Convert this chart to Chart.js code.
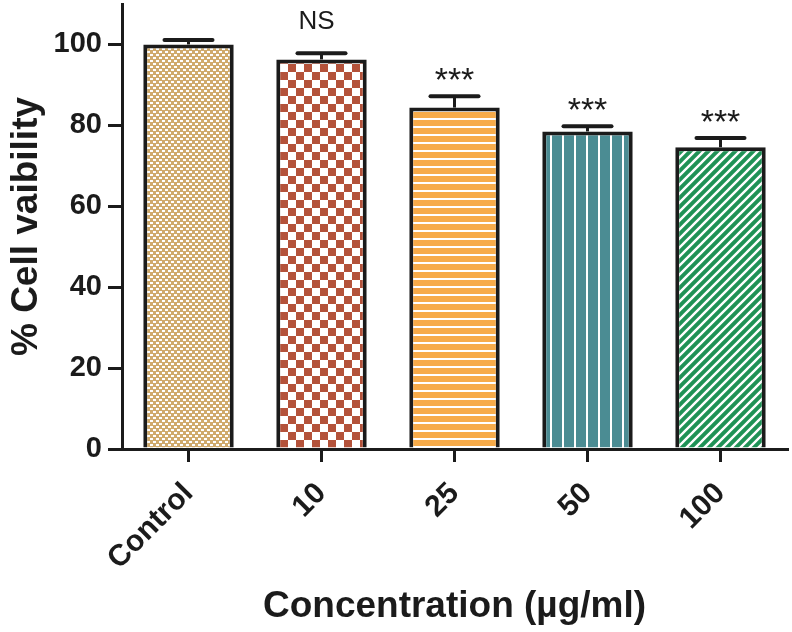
<!DOCTYPE html>
<html>
<head>
<meta charset="utf-8">
<script src="https://cdn.jsdelivr.net/npm/chart.js@4"></script>
<style>
  html, body { margin: 0; padding: 0; background: #fff; }
  #wrap { width: 792px; height: 632px; }
</style>
</head>
<body>
<div id="wrap"><canvas id="barChart" width="792" height="632"></canvas></div>
<script>
const categories = ['Control', '10', '25', '50', '100'];
const viability = [100, 96.3, 84.4, 78.5, 74.6];
const sem = [1.1, 1.5, 2.8, 1.3, 2.3];
const significance = ['', 'NS', '***', '***', '***'];
const yTicks = [0, 20, 40, 60, 80, 100];

const ink = '#1b1b1b';
const fontFam = '"Liberation Sans", Arial, sans-serif';

function tile(w, h, draw) {
    const c = document.createElement('canvas');
    c.width = w; c.height = h;
    const g = c.getContext('2d');
    draw(g, w, h);
    return document.getElementById('barChart').getContext('2d').createPattern(c, 'repeat');
}

// fill patterns per bar
const fills = [
    tile(6, 6, (g) => {
        g.fillStyle = '#fff'; g.fillRect(0, 0, 6, 6);
        g.fillStyle = '#d0aa6c'; g.fillRect(0, 0, 6, 6);
        g.fillStyle = '#fff'; g.fillRect(0, 0, 3, 2); g.fillRect(3, 3, 3, 2);
    }),
    tile(16, 16, (g) => {
        g.fillStyle = '#fff'; g.fillRect(0, 0, 16, 16);
        g.fillStyle = '#b4523a'; g.fillRect(0, 0, 8, 8); g.fillRect(8, 8, 8, 8);
    }),
    tile(8, 8, (g) => {
        g.fillStyle = '#f7ab49'; g.fillRect(0, 0, 8, 8);
        g.fillStyle = '#fff'; g.fillRect(0, 6, 8, 2);
    }),
    tile(12, 12, (g) => {
        g.fillStyle = '#4b8c93'; g.fillRect(0, 0, 12, 12);
        g.fillStyle = '#fff'; g.fillRect(10, 0, 2, 12);
    }),
    tile(9, 9, (g) => {
        g.fillStyle = '#1f9256'; g.fillRect(0, 0, 9, 9);
        g.strokeStyle = '#fff'; g.lineWidth = 2.4;
        g.beginPath();
        g.moveTo(-1, 10); g.lineTo(10, -1);
        g.moveTo(-5.5, 5.5); g.lineTo(5.5, -5.5);
        g.moveTo(3.5, 14.5); g.lineTo(14.5, 3.5);
        g.stroke();
    })
];

// error bars (upper half only visible) + significance marks
const errorBars = {
    id: 'errorBars',
    afterDatasetsDraw(chart) {
        const { ctx, scales: { y } } = chart;
        const meta = chart.getDatasetMeta(0);
        ctx.save();
        ctx.strokeStyle = ink;
        meta.data.forEach((bar, i) => {
            const top = y.getPixelForValue(viability[i] + sem[i]);
            const base = y.getPixelForValue(viability[i]);
            ctx.lineWidth = 3;
            ctx.beginPath();
            ctx.moveTo(bar.x, base);
            ctx.lineTo(bar.x, top);
            ctx.stroke();
            ctx.lineWidth = 4;
            ctx.lineCap = 'round';
            ctx.beginPath();
            ctx.moveTo(bar.x - 24, top);
            ctx.lineTo(bar.x + 24, top);
            ctx.stroke();
            ctx.lineCap = 'butt';

            const txt = significance[i];
            if (txt) {
                const stars = txt.startsWith('*');
                ctx.font = (stars ? '34px ' : '26px ') + fontFam;
                ctx.fillStyle = ink;
                ctx.textAlign = 'center';
                ctx.textBaseline = 'alphabetic';
                const m = ctx.measureText(txt);
                const gap = stars ? 16 : 24;
                ctx.fillText(txt, bar.x - (stars ? 0 : 5), top - gap - m.actualBoundingBoxDescent);
            }
        });
        ctx.restore();
    }
};

new Chart(document.getElementById('barChart'), {
    type: 'bar',
    data: {
        labels: categories,
        datasets: [{
            data: viability,
            backgroundColor: fills,
            borderColor: ink,
            borderWidth: 4,
            borderSkipped: 'start',
            categoryPercentage: 1,
            barPercentage: 0.68
        }]
    },
    options: {
        responsive: false,
        animation: false,
        layout: { padding: { top: 4, right: 5, left: 0, bottom: 0 } },
        plugins: {
            legend: { display: false },
            tooltip: { enabled: false }
        },
        scales: {
            x: {
                grid: {
                    display: true, offset: false, drawOnChartArea: false,
                    drawTicks: true, tickLength: 13, color: ink, lineWidth: 3
                },
                border: { display: true, color: ink, width: 3 },
                ticks: {
                    color: ink, maxRotation: 45, minRotation: 45, padding: 14,
                    font: { family: fontFam, size: 30, weight: 'bold' }
                },
                title: {
                    display: true, text: 'Concentration (µg/ml)', color: ink,
                    padding: { top: 0, bottom: 3 },
                    font: { family: fontFam, size: 37, weight: 'bold' }
                },
                afterFit(scale) {
                    scale.height = 183;
                    scale.paddingLeft = 0; scale.paddingRight = 0;
                }
            },
            y: {
                min: 0, max: 110,
                afterBuildTicks(scale) {
                    scale.ticks = yTicks.map(v => ({ value: v }));
                },
                grid: {
                    display: true, drawOnChartArea: false, drawTicks: true,
                    tickLength: 14, color: ink, lineWidth: 3
                },
                border: { display: true, color: ink, width: 3 },
                ticks: {
                    color: ink, padding: 6,
                    font: { family: fontFam, size: 29, weight: 'bold' }
                },
                title: {
                    display: true, text: '% Cell vaibility', color: ink,
                    padding: { top: 5, bottom: 0 },
                    font: { family: fontFam, size: 37, weight: 'bold' }
                },
                afterFit(scale) {
                    scale.width = 122;
                    scale.paddingTop = 0; scale.paddingBottom = 0;
                }
            }
        }
    },
    plugins: [errorBars]
});
</script>
</body>
</html>
